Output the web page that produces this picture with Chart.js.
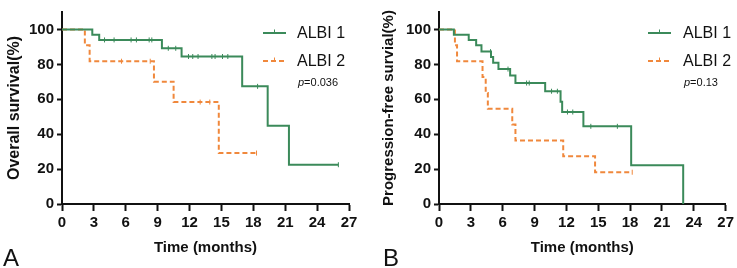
<!DOCTYPE html>
<html>
<head>
<meta charset="utf-8">
<script src="https://cdn.jsdelivr.net/npm/chart.js@4.4.1/dist/chart.umd.min.js"></script>
<style>
  html, body { margin: 0; padding: 0; background: #fff; }
  #wrap { position: relative; width: 737px; height: 268px; }
  canvas { position: absolute; top: 0; }
</style>
</head>
<body>
<div id="wrap">
  <canvas id="chartA" width="370" height="268" style="left:0"></canvas>
  <canvas id="chartB" width="367" height="268" style="left:370px"></canvas>
</div>
<script>
// ---- data (months / % surviving) ----
const xTicks = [0, 3, 6, 9, 12, 15, 18, 21, 24, 27];
const yTicks = [0, 20, 40, 60, 80, 100];
const groupNames = ["ALBI 1", "ALBI 2"];

// A: overall survival
const a1Time = [0, 2.85, 3.5, 9.4, 11.25, 16.95, 19.35, 21.35, 26.0];
const a1Surv = [100, 97.0, 94.0, 89.2, 84.5, 67.4, 44.8, 22.5, 22.5];
const a1Cens = [4.0, 4.9, 6.5, 7.0, 8.2, 8.45, 10.0, 10.7, 11.9, 12.3, 12.8, 14.1, 14.4, 15.1, 15.6, 18.4, 26.0];
const a2Time = [0, 2.15, 2.6, 8.65, 10.5, 14.75, 18.3];
const a2Surv = [100, 90.9, 81.8, 70.1, 58.4, 29.2, 29.2];
const a2Cens = [5.6, 8.3, 13.0, 13.9, 18.3];

// B: progression-free survival
const b1Time = [0, 1.4, 2.8, 3.5, 4.0, 4.9, 5.1, 5.6, 6.7, 7.2, 10.0, 11.45, 11.6, 13.6, 18.1, 23.0];
const b1Surv = [100, 97.0, 93.9, 90.9, 87.3, 84.2, 80.9, 77.3, 73.6, 69.3, 64.6, 58.6, 52.7, 44.5, 22.2, 0];
const b1Cens = [4.85, 6.5, 8.25, 8.5, 10.6, 11.15, 12.1, 12.6, 14.3, 16.8];
const b2Time = [0, 1.5, 1.7, 4.1, 4.4, 4.6, 6.9, 7.2, 11.7, 14.7, 18.2];
const b2Surv = [100, 90.9, 81.8, 72.7, 63.6, 54.5, 45.5, 36.4, 27.3, 18.2, 18.2];
const b2Cens = [18.2];

const GREEN = "#3b8a5a";
const ORANGE = "#f0883c";
const FONT = "'Liberation Sans', Arial, Helvetica, sans-serif";
Chart.defaults.font.family = FONT;
Chart.defaults.color = "#111";

// km value at time t (step function lookup)
function survAt(times, surv, t) {
    let s = surv[0];
    for (let i = 0; i < times.length; i++) {
        if (times[i] <= t) s = surv[i];
    }
    return s;
}
function toPoints(xs, ys) {
    return xs.map((x, i) => ({ x: x, y: ys[i] }));
}
function censPoints(cens, times, surv) {
    return cens.map(t => ({ x: t, y: survAt(times, surv, t) }));
}

// legend, p value and panel letter
const overlayPlugin = {
    id: "overlay",
    afterDraw(chart, args, opts) {
        const ctx = chart.ctx;
        ctx.save();
        const styles = [
            { color: GREEN, dash: [] },
            { color: ORANGE, dash: [5, 3] }
        ];
        groupNames.forEach((name, i) => {
            const y = opts.legendY + i * 28;
            ctx.strokeStyle = styles[i].color;
            ctx.lineWidth = 2;
            ctx.setLineDash(styles[i].dash);
            ctx.beginPath();
            ctx.moveTo(opts.lineX, y);
            ctx.lineTo(opts.lineX + 23, y);
            ctx.stroke();
            ctx.setLineDash([]);
            ctx.lineWidth = 1;
            ctx.beginPath();
            ctx.moveTo(opts.lineX + 11.5, y - 3.5);
            ctx.lineTo(opts.lineX + 11.5, y);
            ctx.stroke();

            ctx.fillStyle = "#111";
            ctx.font = "16px " + FONT;
            ctx.textBaseline = "middle";
            ctx.textAlign = "left";
            ctx.fillText(name, opts.textX, y + 1);
        });

        // p value
        ctx.font = "italic 11px " + FONT;
        ctx.fillText("p", opts.textX + 1, opts.legendY + 50);
        const pw = ctx.measureText("p").width;
        ctx.font = "11px " + FONT;
        ctx.fillText("=" + opts.pValue, opts.textX + 1 + pw, opts.legendY + 50);

        // panel letter
        ctx.font = "24px " + FONT;
        ctx.textBaseline = "alphabetic";
        ctx.fillText(opts.letter, opts.letterX, 266);
        ctx.restore();
    }
};

function buildChart(id, cfg) {
    const ctx = document.getElementById(id).getContext("2d");
    return new Chart(ctx, {
        type: "line",
        data: {
            datasets: [
                {
                    data: censPoints(cfg.c1, cfg.t1, cfg.s1),
                    showLine: false,
                    pointStyle: "line",
                    rotation: 90,
                    pointRadius: 2.5,
                    borderColor: GREEN,
                    borderWidth: 1,
                },
                {
                    data: censPoints(cfg.c2, cfg.t2, cfg.s2),
                    showLine: false,
                    pointStyle: "line",
                    rotation: 90,
                    pointRadius: 2.5,
                    borderColor: ORANGE,
                    borderWidth: 1,
                },
                {
                    label: groupNames[0],
                    data: toPoints(cfg.t1, cfg.s1),
                    stepped: "before",
                    borderColor: GREEN,
                    borderWidth: 2,
                    pointRadius: 0,
                    fill: false,
                },
                {
                    label: groupNames[1],
                    data: toPoints(cfg.t2, cfg.s2),
                    stepped: "before",
                    borderColor: ORANGE,
                    borderDash: [5, 3],
                    borderWidth: 2,
                    pointRadius: 0,
                    fill: false,
                },
            ],
        },
        options: {
            responsive: false,
            animation: false,
            events: [],
            layout: { padding: { top: 10, right: cfg.padRight, left: 0, bottom: 0 } },
            plugins: {
                legend: { display: false },
                tooltip: { enabled: false },
                overlay: cfg.overlay,
            },
            scales: {
                x: {
                    type: "linear",
                    min: xTicks[0],
                    max: xTicks[xTicks.length - 1],
                    afterBuildTicks: (s) => { s.ticks = xTicks.map(v => ({ value: v })); },
                    ticks: { font: { size: 15, weight: "bold" }, color: "#111", padding: 3, maxRotation: 0 },
                    grid: { drawOnChartArea: false, tickLength: 7, tickWidth: 2, color: "#111" },
                    border: { color: "#111", width: 2 },
                    title: {
                        display: true,
                        text: "Time (months)",
                        font: { size: 15, weight: "bold" },
                        color: "#111",
                        padding: { top: 0, bottom: 11 },
                    },
                    afterFit: (s) => { s.height = 64; },
                },
                y: {
                    min: 0,
                    max: 110,
                    afterBuildTicks: (s) => { s.ticks = yTicks.map(v => ({ value: v })); },
                    ticks: { font: { size: 15, weight: "bold" }, color: "#111", padding: 3 },
                    grid: { drawOnChartArea: false, tickLength: 5, tickWidth: 2, color: "#111" },
                    border: { color: "#111", width: 2 },
                    title: {
                        display: true,
                        text: cfg.yTitle,
                        font: { size: cfg.yTitleSize, weight: "bold" },
                        color: "#111",
                        padding: { top: cfg.yTitlePad, bottom: 0 },
                    },
                    afterFit: (s) => { s.width = cfg.axisLeft; },
                },
            },
        },
        plugins: [overlayPlugin],
    });
}

buildChart("chartA", {
    t1: a1Time, s1: a1Surv, c1: a1Cens,
    t2: a2Time, s2: a2Surv, c2: a2Cens,
    yTitle: "Overall survival(%)", yTitleSize: 16, yTitlePad: 5,
    axisLeft: 62, padRight: 21,
    overlay: { lineX: 263, textX: 297, legendY: 33, pValue: "0.036", letter: "A", letterX: 3 },
});

buildChart("chartB", {
    t1: b1Time, s1: b1Surv, c1: b1Cens,
    t2: b2Time, s2: b2Surv, c2: b2Cens,
    yTitle: "Progression-free survial(%)", yTitleSize: 15, yTitlePad: 10,
    axisLeft: 69, padRight: 11,
    overlay: { lineX: 278, textX: 313, legendY: 33, pValue: "0.13", letter: "B", letterX: 13 },
});
</script>
</body>
</html>
